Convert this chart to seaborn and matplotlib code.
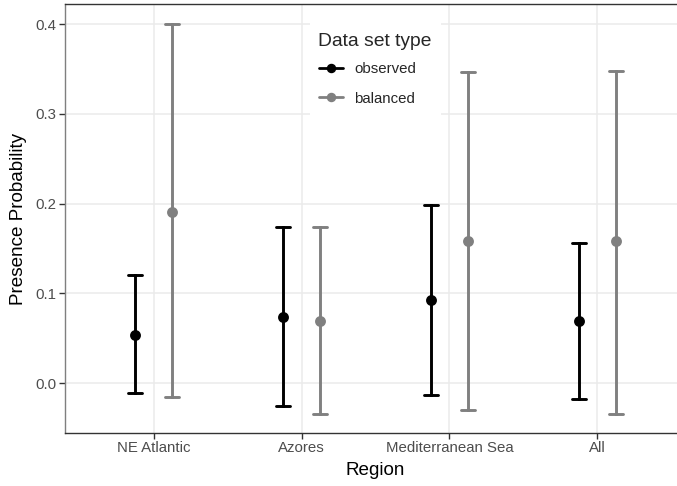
import numpy as np
import pandas as pd
import matplotlib
matplotlib.use('Agg')
import matplotlib.pyplot as plt
from matplotlib.lines import Line2D
import seaborn as sns

# ── Data ─────────────────────────────────────────────────────────────────────
REGIONS   = ['NE Atlantic', 'Azores', 'Mediterranean Sea', 'All']
TYPES     = ['observed', 'balanced']
OBS_MID   = [0.054, 0.074, 0.092, 0.069]
OBS_LO    = [-0.011, -0.026, -0.013, -0.018]
OBS_HI    = [0.120, 0.174, 0.198, 0.156]
BAL_MID   = [0.191, 0.069, 0.158, 0.158]
BAL_LO    = [-0.016, -0.035, -0.030, -0.034]
BAL_HI    = [0.400, 0.174, 0.346, 0.348]
COLORS    = {'observed': 'black', 'balanced': '#808080'}

# long table: lo / mid / hi per group -> median = estimate, 100% PI = interval
rows = []
for t, lo, mid, hi in [('observed', OBS_LO, OBS_MID, OBS_HI),
                       ('balanced', BAL_LO, BAL_MID, BAL_HI)]:
    for r, a, b, c in zip(REGIONS, lo, mid, hi):
        for v in (a, b, c):
            rows.append({'Region': r, 'type': t, 'prob': v})
df = pd.DataFrame(rows)

sns.set_theme(style='white')
plt.rcParams['font.family'] = ['Liberation Sans', 'DejaVu Sans']

fig = plt.figure(figsize=(6.77, 4.86), dpi=100)
ax = fig.add_axes([65/677, 53/486, 621/677, 429/486])

sns.pointplot(data=df, x='Region', y='prob', hue='type',
              order=REGIONS, hue_order=TYPES, palette=COLORS,
              estimator='median', errorbar=('pi', 100),
              dodge=0.25, capsize=0.095, linestyle='none',
              markersize=5.8, err_kws={'linewidth': 2.1},
              legend=False, ax=ax)

# grid (theme_bw look) – seaborn switches the categorical grid off
ax.set_axisbelow(True)
ax.xaxis.grid(True, color='#EBEBEB', lw=1.1)
ax.yaxis.grid(True, color='#EBEBEB', lw=1.1)

ax.set_xlim(-0.6, 3.6)
ax.set_ylim(-0.0557, 0.4223)
ax.set_yticks([0.0, 0.1, 0.2, 0.3, 0.4])
ax.set_yticklabels(['0.0', '0.1', '0.2', '0.3', '0.4'])

for side in ['left', 'bottom', 'top', 'right']:
    ax.spines[side].set_color('#333333')
    ax.spines[side].set_linewidth(1.0)
ax.spines['left'].set_color('#7F7F7F')

ax.tick_params(axis='both', which='major', length=4, width=1,
               color='#333333', labelsize=10.8, labelcolor='#4D4D4D',
               direction='out', pad=2, left=True, bottom=True)

ax.set_xlabel('Region', fontsize=13.6, color='black', labelpad=5)
ax.set_ylabel('Presence Probability', fontsize=13.6, color='black', labelpad=6)

handles = [Line2D([0], [0], color=COLORS[t], lw=2, marker='o', markersize=5.8)
           for t in TYPES]
leg = ax.legend(handles, TYPES, title='Data set type', loc='upper left',
                bbox_to_anchor=(302/677, 1 - 16/486), bbox_transform=fig.transFigure,
                frameon=True, fancybox=False, framealpha=1, facecolor='white',
                edgecolor='none', fontsize=10.8, title_fontsize=13.9,
                handlelength=1.6, handletextpad=0.8, labelspacing=1.05,
                borderpad=0.6)
leg._legend_box.align = 'left'
leg._legend_box.sep = 9

fig.savefig('out.png', dpi=100)
